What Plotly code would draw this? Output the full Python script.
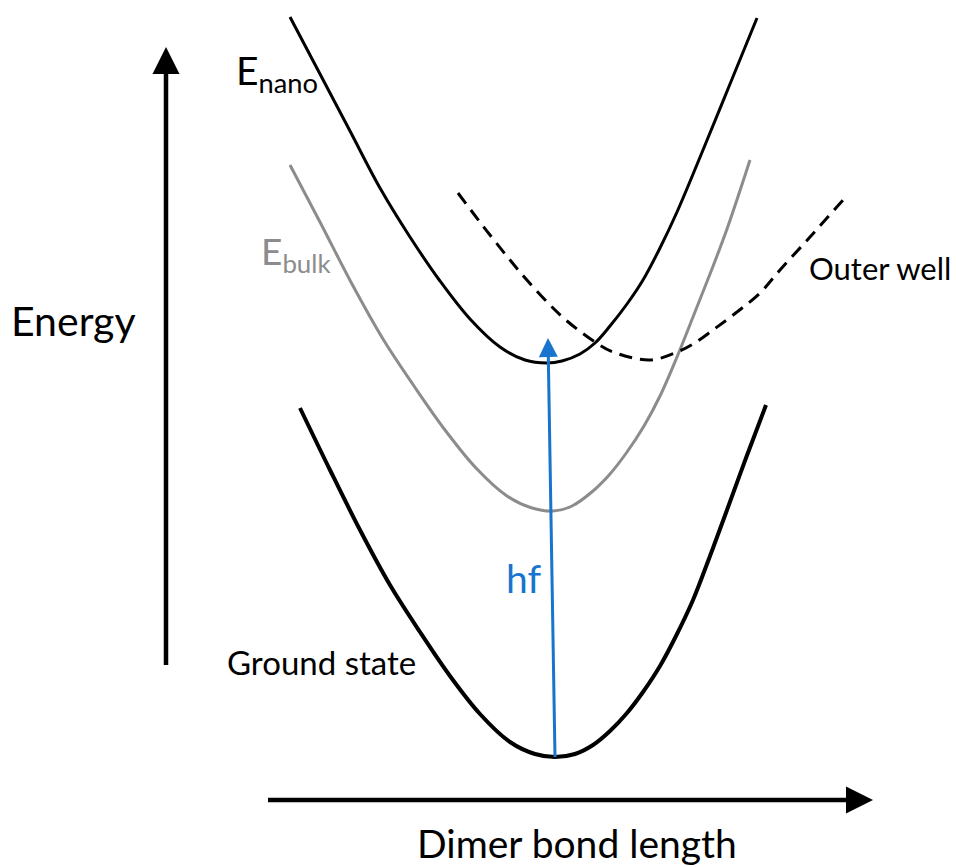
import plotly.graph_objects as go

# Curves (x: bond length, y: picture units, downward = lower energy)
ground_x = [300, 330, 360, 390, 420, 450, 480, 510, 535, 555, 575, 593, 610, 627, 643, 660, 677, 693, 710, 727, 746, 766]
ground_y = [408, 470, 530, 585, 632, 676, 714, 742, 754, 757, 754, 745, 731, 713, 692, 666, 634, 600, 556, 510, 458, 405]

bulk_x = [290, 321, 352, 383, 414, 445, 476, 507, 532, 553, 572, 593, 610, 627, 644, 660, 677, 693, 710, 727, 750]
bulk_y = [165, 224, 284, 339, 386, 430, 468, 496, 508, 511, 506, 491, 474, 452, 426, 396, 357, 317, 274, 229, 160]

nano_x = [290, 320, 350, 380, 410, 440, 470, 500, 525, 547, 562, 580, 595, 610, 627, 643, 660, 677, 703, 730, 757]
nano_y = [17, 74, 131, 188, 237, 281, 319, 347, 360, 363, 361, 354, 343, 326, 304, 280, 248, 212, 150, 84, 18]

outer_x = [458, 490, 520, 550, 567, 595, 613, 650, 677, 693, 713, 737, 760, 780, 810, 843]
outer_y = [193, 235, 272, 305, 321, 342, 352, 360, 352, 344, 330, 312, 293, 270, 237, 200]

# hf transition (ground-state minimum -> E_nano minimum)
hf_x = [555, 548]
hf_y = [757, 338]

# Axis arrows (tail -> tip)
energy_axis_x = [166, 166]
energy_axis_y = [665, 47]
bond_axis_x = [268, 873]
bond_axis_y = [800, 800]

FONT = "Lato"
BLUE = "#1874cd"
GRAY = "#8c8c8c"

fig = go.Figure()


def curve(x, y, color, width, dash="solid"):
    fig.add_trace(go.Scatter(x=x, y=y, mode="lines",
                             line=dict(color=color, width=width, shape="spline", dash=dash),
                             hoverinfo="skip"))


curve(ground_x, ground_y, "black", 4)
curve(bulk_x, bulk_y, GRAY, 3)
curve(nano_x, nano_y, "black", 3)
curve(outer_x, outer_y, "black", 3, dash="13px,8px")


def arrow(xs, ys, color, width, head, symbol, angle=0):
    # shaft stops at the base of the head (axes are 1 unit per pixel)
    dx, dy = xs[1] - xs[0], ys[1] - ys[0]
    length = (dx * dx + dy * dy) ** 0.5
    bx = xs[1] - dx / length * (head - 2)
    by = ys[1] - dy / length * (head - 2)
    fig.add_trace(go.Scatter(x=[xs[0], bx], y=[ys[0], by], mode="lines",
                             line=dict(color=color, width=width), hoverinfo="skip"))
    fig.add_trace(go.Scatter(x=[xs[1]], y=[ys[1]], mode="markers",
                             marker=dict(symbol=symbol, size=head, color=color, angle=angle,
                                         line=dict(width=0)),
                             hoverinfo="skip"))


arrow(energy_axis_x, energy_axis_y, "black", 4.5, 27, "arrow-up")
arrow(bond_axis_x, bond_axis_y, "black", 4.5, 27, "arrow-right")
arrow(hf_x, hf_y, BLUE, 3, 19, "arrow-up", angle=-1)

ann = []


def label(x, y, t, size, color="black"):
    ann.append(dict(x=x, y=y, xref="x", yref="y", text=t, showarrow=False,
                    font=dict(family=FONT, size=size, color=color),
                    xanchor="center", yanchor="middle"))


label(73, 320, "Energy", 41)
label(577, 843, "Dimer bond length", 39)
label(321, 662, "Ground state", 33)
label(880, 268, "Outer well", 31)
label(277, 73, "E<sub>nano</sub>", 39)
label(296, 253, "E<sub>bulk</sub>", 37, GRAY)
label(523, 578, "hf", 39, BLUE)

fig.update_layout(
    width=956, height=867, margin=dict(l=0, r=0, t=0, b=0),
    paper_bgcolor="white", plot_bgcolor="white", showlegend=False,
    xaxis=dict(range=[0, 956], visible=False, fixedrange=True),
    yaxis=dict(range=[867, 0], visible=False, fixedrange=True),
    annotations=ann,
)
fig.write_html("out.html")
